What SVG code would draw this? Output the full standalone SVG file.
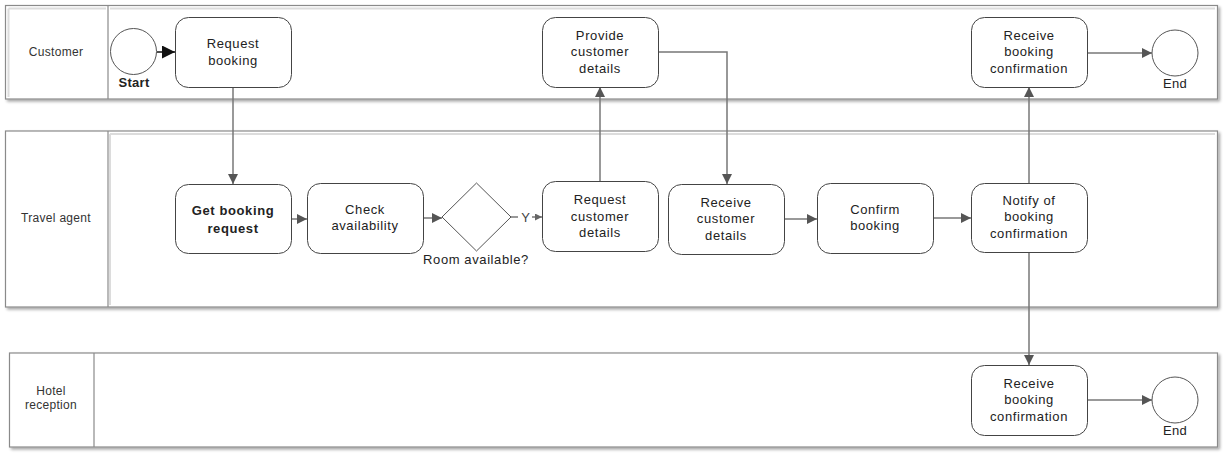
<svg xmlns="http://www.w3.org/2000/svg" width="1227" height="456" viewBox="0 0 1227 456">
<defs>
<filter id="sh" x="-5%" y="-20%" width="110%" height="140%">
<feGaussianBlur in="SourceAlpha" stdDeviation="1.5"/>
<feOffset dx="2" dy="2" result="o"/>
<feComponentTransfer><feFuncA type="linear" slope="0.35"/></feComponentTransfer>
<feMerge><feMergeNode/><feMergeNode in="SourceGraphic"/></feMerge>
</filter>
<marker id="ah" viewBox="0 0 10 10" refX="10" refY="5" markerWidth="13" markerHeight="10" markerUnits="userSpaceOnUse" orient="auto">
<path d="M0,0 L10,5 L0,10 Z" fill="#555"/>
</marker>
<marker id="ahs" viewBox="0 0 10 10" refX="10" refY="5" markerWidth="7" markerHeight="7" markerUnits="userSpaceOnUse" orient="auto">
<path d="M0,0 L10,5 L0,10 Z" fill="#666"/>
</marker>
<marker id="ahb" viewBox="0 0 10 10" refX="10" refY="5" markerWidth="15" markerHeight="13" markerUnits="userSpaceOnUse" orient="auto">
<path d="M0,0 L10,5 L0,10 Z" fill="#111"/>
</marker>
</defs>
<style>
.lane{fill:#fff;stroke:#8a8a8a;stroke-width:1.2}
.div{stroke:#8a8a8a;stroke-width:1.2}
.inset{stroke:#dcdcdc;stroke-width:2;fill:none}
.lt{font-family:"Liberation Sans",Arial,sans-serif;font-size:12px;fill:#333;text-anchor:middle;letter-spacing:0.3px}
.box{fill:#fff;stroke:#444;stroke-width:1}
.t{font-family:"Liberation Sans",Arial,sans-serif;font-size:13px;fill:#222;text-anchor:middle;letter-spacing:0.6px}
.b{font-weight:bold}
.ev{fill:#fff;stroke:#555;stroke-width:1}
.c{fill:none;stroke:#777;stroke-width:1.5}
</style>
<rect width="1227" height="456" fill="#fff"/>
<g id="lane-customer">
<rect class="lane" x="5.5" y="5.5" width="1212" height="93.5" filter="url(#sh)"/>
<path class="inset" d="M110,8.5 H1215"/>
<path class="inset" d="M8.5,8.5 H106 M8.5,8.5 V97"/>
<line class="div" x1="108" y1="5.5" x2="108" y2="99"/>
<text class="lt" x="56" y="56">Customer</text>
</g>
<g id="lane-agent">
<rect class="lane" x="5.5" y="131" width="1212" height="176" filter="url(#sh)"/>
<path class="inset" d="M110,134 H1215 M110,134 V305"/>
<line class="div" x1="108" y1="131" x2="108" y2="307"/>
<text class="lt" x="56" y="222">Travel agent</text>
</g>
<g id="lane-hotel">
<rect class="lane" x="9.5" y="353" width="1208" height="94" filter="url(#sh)"/>
<line class="div" x1="94" y1="353" x2="94" y2="447"/>
<text class="lt" x="51" y="395">Hotel</text>
<text class="lt" x="51" y="409">reception</text>
</g>
<g id="connectors">
<line class="c" x1="157" y1="52" x2="175" y2="52" style="stroke:#111" marker-end="url(#ahb)"/>
<line class="c" x1="233" y1="87" x2="233" y2="184" marker-end="url(#ah)"/>
<line class="c" x1="291" y1="219" x2="307" y2="219" marker-end="url(#ah)"/>
<line class="c" x1="423" y1="218" x2="442" y2="218" marker-end="url(#ah)"/>
<line class="c" x1="511" y1="217" x2="542" y2="217" marker-end="url(#ahs)"/>
<rect x="518" y="209" width="14" height="16" fill="#fff"/>
<text class="t" x="526" y="221.5" style="fill:#444">Y</text>
<line class="c" x1="600" y1="181" x2="600" y2="87" marker-end="url(#ah)"/>
<polyline class="c" points="658,52 727,52 727,184" marker-end="url(#ah)"/>
<line class="c" x1="784" y1="219" x2="817" y2="219" marker-end="url(#ah)"/>
<line class="c" x1="933" y1="218" x2="971" y2="218" marker-end="url(#ah)"/>
<line class="c" x1="1029" y1="183" x2="1029" y2="87" marker-end="url(#ah)"/>
<line class="c" x1="1029" y1="252" x2="1029" y2="365" marker-end="url(#ah)"/>
<line class="c" x1="1087" y1="53" x2="1152" y2="53" marker-end="url(#ah)"/>
<line class="c" x1="1087" y1="400" x2="1152" y2="400" marker-end="url(#ah)"/>
</g>
<g id="start">
<circle class="ev" cx="133.5" cy="51.5" r="23"/>
<text class="t b" x="134" y="87" style="letter-spacing:0.3px">Start</text>
</g>
<g id="request-booking">
<rect class="box" x="175.5" y="17.5" width="116" height="70" rx="13"/>
<text class="t" x="233" y="48">Request</text>
<text class="t" x="233" y="65">booking</text>
</g>
<g id="get-booking-request">
<rect class="box" x="175.5" y="184.5" width="116" height="69" rx="13"/>
<text class="t b" x="233" y="215">Get booking</text>
<text class="t b" x="233" y="233">request</text>
</g>
<g id="check-availability">
<rect class="box" x="307.5" y="183.5" width="116" height="70" rx="13"/>
<text class="t" x="365" y="213.5">Check</text>
<text class="t" x="365" y="230">availability</text>
</g>
<g id="room-available">
<polygon class="ev" points="476.5,183 511,217 476.5,251 442,217"/>
<text class="t" x="476" y="264">Room available?</text>
</g>
<g id="request-customer-details">
<rect class="box" x="542.5" y="181.5" width="116" height="70" rx="13"/>
<text class="t" x="600" y="204">Request</text>
<text class="t" x="600" y="220.5">customer</text>
<text class="t" x="600" y="237">details</text>
</g>
<g id="provide-customer-details">
<rect class="box" x="542.5" y="17.5" width="116" height="70" rx="13"/>
<text class="t" x="600" y="39.5">Provide</text>
<text class="t" x="600" y="56">customer</text>
<text class="t" x="600" y="72.5">details</text>
</g>
<g id="receive-customer-details">
<rect class="box" x="668.5" y="184.5" width="116" height="70" rx="13"/>
<text class="t" x="726" y="206.5">Receive</text>
<text class="t" x="726" y="223">customer</text>
<text class="t" x="726" y="239.5">details</text>
</g>
<g id="confirm-booking">
<rect class="box" x="817.5" y="183.5" width="116" height="70" rx="13"/>
<text class="t" x="875" y="213.5">Confirm</text>
<text class="t" x="875" y="230">booking</text>
</g>
<g id="notify-booking-confirmation">
<rect class="box" x="971.5" y="183.5" width="116" height="69" rx="13"/>
<text class="t" x="1029" y="204.5">Notify of</text>
<text class="t" x="1029" y="221">booking</text>
<text class="t" x="1029" y="237.5">confirmation</text>
</g>
<g id="receive-booking-confirmation-customer">
<rect class="box" x="971.5" y="17.5" width="116" height="70" rx="13"/>
<text class="t" x="1029" y="39.5">Receive</text>
<text class="t" x="1029" y="56">booking</text>
<text class="t" x="1029" y="72.5">confirmation</text>
</g>
<g id="end-customer">
<circle class="ev" cx="1175" cy="53" r="23"/>
<text class="t" x="1175" y="88" style="letter-spacing:0.3px">End</text>
</g>
<g id="receive-booking-confirmation-hotel">
<rect class="box" x="971.5" y="365.5" width="116" height="70" rx="13"/>
<text class="t" x="1029" y="387.5">Receive</text>
<text class="t" x="1029" y="404">booking</text>
<text class="t" x="1029" y="420.5">confirmation</text>
</g>
<g id="end-hotel">
<circle class="ev" cx="1175" cy="400" r="23"/>
<text class="t" x="1175" y="435" style="letter-spacing:0.3px">End</text>
</g>
</svg>
